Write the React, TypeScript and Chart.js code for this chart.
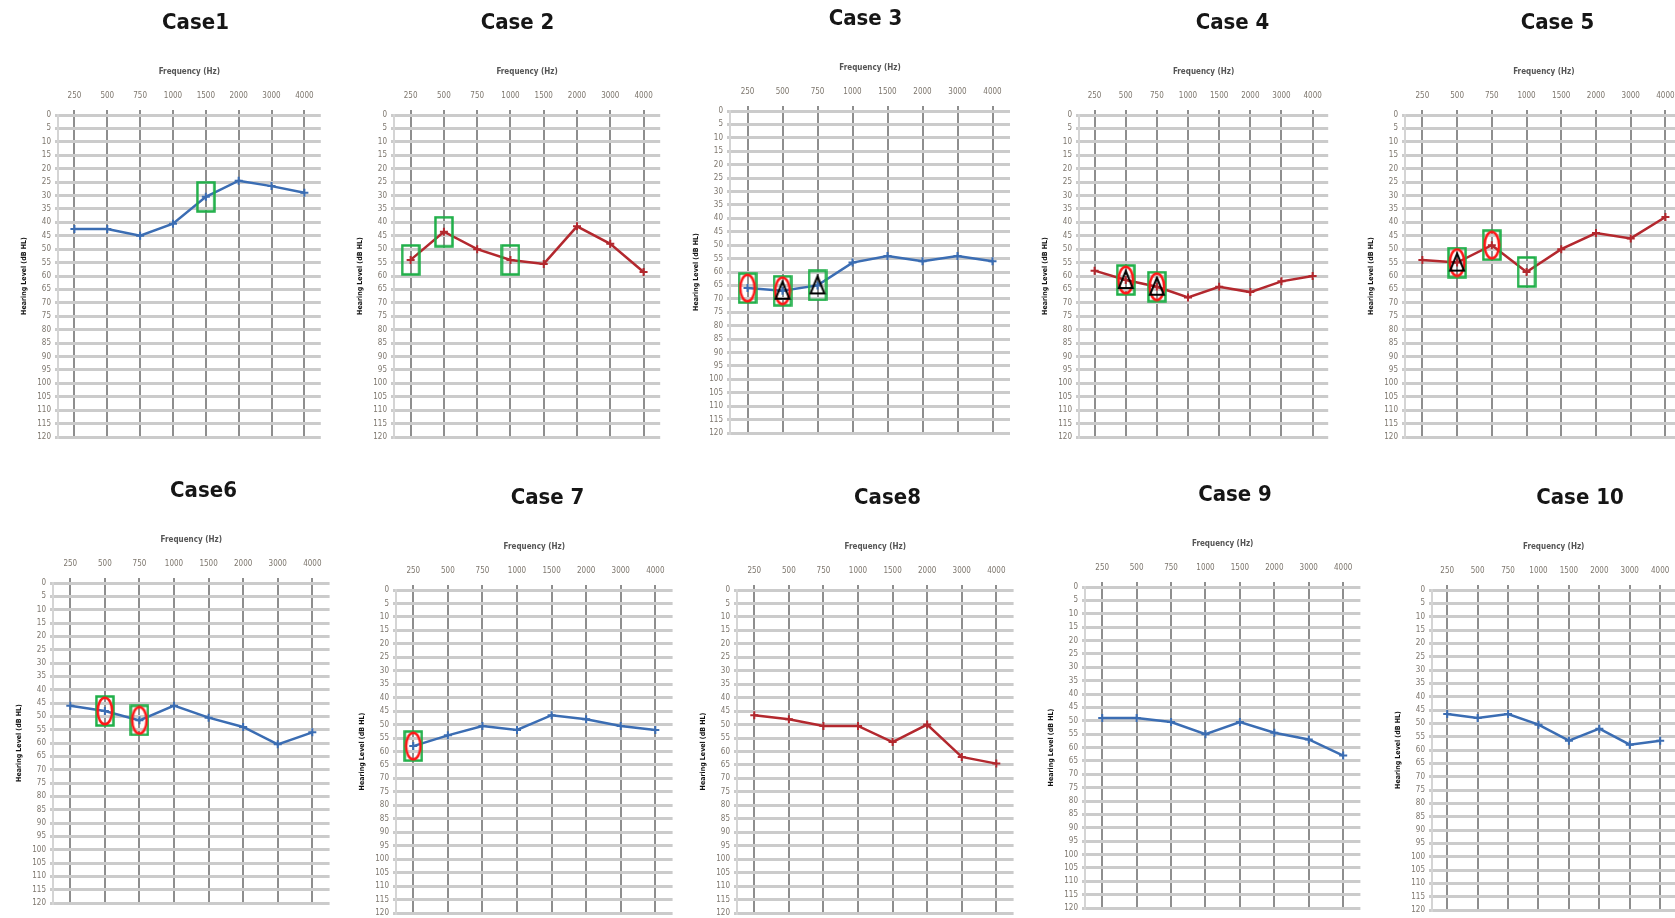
import React, { useEffect, useRef } from "react";
import { Chart, registerables } from "chart.js";

Chart.register(...registerables);

// ---------- data ----------
const frequencies = ["250", "500", "750", "1000", "1500", "2000", "3000", "4000"];
const levelMin = 0;
const levelMax = 120;
const levelStep = 5;

const case1Values = [42.5, 42.5, 45, 40.5, 30.5, 24.5, 26.5, 29];
const case2Values = [54, 43.5, 50, 54, 55.5, 41.5, 48, 58.5];
const case3Values = [66, 67, 65, 56.5, 54, 56, 54, 56];
const case4Values = [58, 61.5, 64, 68, 64, 66, 62, 60];
const case5Values = [54, 55, 48.5, 58.5, 50, 44, 46, 38];
const case6Values = [46, 48, 51.5, 46, 50.5, 54, 60.5, 56];
const case7Values = [58, 54, 50.5, 52, 46.5, 48, 50.5, 52];
const case8Values = [46.5, 48, 50.5, 50.5, 56.5, 50, 62, 64.5];
const case9Values = [49, 49, 50.5, 55, 50.5, 54.5, 57, 63];
const case10Values = [46.5, 48, 46.5, 50.5, 56.5, 52, 58, 56.5];

// indices (into frequencies) of highlighted points
const case1Boxes = [4];
const case2Boxes = [0, 1, 3];
const case3Boxes = [0, 1, 2];
const case3Circles = [0, 1];
const case3Triangles = [1, 2];
const case4Boxes = [1, 2];
const case4Circles = [1, 2];
const case4Triangles = [1, 2];
const case5Boxes = [1, 2, 3];
const case5Circles = [1, 2];
const case5Triangles = [1];
const case6Boxes = [1, 2];
const case6Circles = [1, 2];
const case7Boxes = [0];
const case7Circles = [0];

const BLUE = "#3b6db3";
const RED = "#b3282e";

const CASES = [
  { title: "Case1", values: case1Values, color: BLUE, boxes: case1Boxes, circles: [], triangles: [] },
  { title: "Case 2", values: case2Values, color: RED, boxes: case2Boxes, circles: [], triangles: [] },
  { title: "Case 3", values: case3Values, color: BLUE, boxes: case3Boxes, circles: case3Circles, triangles: case3Triangles },
  { title: "Case 4", values: case4Values, color: RED, boxes: case4Boxes, circles: case4Circles, triangles: case4Triangles },
  { title: "Case 5", values: case5Values, color: RED, boxes: case5Boxes, circles: case5Circles, triangles: case5Triangles },
  { title: "Case6", values: case6Values, color: BLUE, boxes: case6Boxes, circles: case6Circles, triangles: [] },
  { title: "Case 7", values: case7Values, color: BLUE, boxes: case7Boxes, circles: case7Circles, triangles: [] },
  { title: "Case8", values: case8Values, color: RED, boxes: [], circles: [], triangles: [] },
  { title: "Case 9", values: case9Values, color: BLUE, boxes: [], circles: [], triangles: [] },
  { title: "Case 10", values: case10Values, color: BLUE, boxes: [], circles: [], triangles: [] },
];

// ---------- layout (plot area: left, top, right, bottom; title centre x) ----------
const LAYOUT = [
  { plot: [57.6, 115, 320.4, 437], titleX: 195 },
  { plot: [394.4, 115, 660.6, 437], titleX: 518 },
  { plot: [729.5, 111, 1009.5, 433], titleX: 865 },
  { plot: [1079.4, 115, 1328.6, 437], titleX: 1233 },
  { plot: [1404.6, 115, 1682.4, 437], titleX: 1557 },
  { plot: [52.7, 583, 329.3, 903], titleX: 203 },
  { plot: [395.7, 590, 672.3, 913], titleX: 547 },
  { plot: [736.7, 590, 1013.3, 913], titleX: 887 },
  { plot: [1084.8, 587, 1360.2, 908], titleX: 1235 },
  { plot: [1431.8, 590, 1675.2, 910], titleX: 1580 },
];

const Y_AXIS_W = 45;
const TOP_H = 105;
const TITLE_FONT = 22;
const BOTTOM_PAD = 12;
const NARROW = "'Liberation Sans Narrow', 'DejaVu Sans Condensed', 'Liberation Sans', sans-serif";

// ---------- marker images ----------
function makeMark(kind: string): HTMLCanvasElement {
  const c = document.createElement("canvas");
  const ctx = c.getContext("2d")!;
  if (kind === "box") {
    c.width = 20;
    c.height = 32;
    ctx.strokeStyle = "#1faf48";
    ctx.lineWidth = 2.5;
    ctx.strokeRect(1.5, 1.5, 17, 29);
  } else if (kind === "circle") {
    c.width = 18;
    c.height = 30;
    ctx.strokeStyle = "#ff1616";
    ctx.lineWidth = 2.5;
    ctx.beginPath();
    ctx.ellipse(9, 15, 7.2, 13.2, 0, 0, Math.PI * 2);
    ctx.stroke();
  } else {
    c.width = 18;
    c.height = 22;
    ctx.strokeStyle = "#000";
    ctx.lineWidth = 2;
    ctx.beginPath();
    ctx.moveTo(9, 2);
    ctx.lineTo(16, 19);
    ctx.lineTo(2, 19);
    ctx.closePath();
    ctx.stroke();
  }
  return c;
}

function pick(values: number[], idx: number[]) {
  return frequencies.map((_, i) => (idx.includes(i) ? values[i] : null));
}

function Audiogram({ cfg, layout }: { cfg: any; layout: any }) {
  const ref = useRef<HTMLCanvasElement>(null);
  const [pl, pt, pr, pb] = layout.plot;
  const canvasLeft = pl - Y_AXIS_W;
  const canvasTop = pt - TOP_H;
  const width = Math.round(2 * (layout.titleX - canvasLeft));
  const plotW = pr - pl;
  const height = Math.round(TOP_H + (pb - pt) + BOTTOM_PAD);
  const rightW = width - Y_AXIS_W - plotW;

  useEffect(() => {
    if (!ref.current) return;
    const boxImg = makeMark("box");
    const circleImg = makeMark("circle");
    const triImg = makeMark("triangle");
    const mark = (label: string, idx: number[], img: HTMLCanvasElement, order: number) => ({
      label,
      data: pick(cfg.values, idx),
      showLine: false,
      pointStyle: img,
      pointRadius: 5,
      pointBorderWidth: 0,
      order,
    });
    const datasets: any[] = [
      {
        label: cfg.title,
        data: cfg.values,
        borderColor: cfg.color,
        backgroundColor: cfg.color,
        borderWidth: 2.5,
        pointStyle: "cross",
        pointRadius: 4,
        pointBorderWidth: 2,
        pointBorderColor: cfg.color,
        tension: 0,
        order: 3,
      },
    ];
    if (cfg.boxes.length) datasets.push(mark("box", cfg.boxes, boxImg, 2));
    if (cfg.circles.length) datasets.push(mark("circle", cfg.circles, circleImg, 1));
    if (cfg.triangles.length) datasets.push(mark("triangle", cfg.triangles, triImg, 0));

    const chart = new Chart(ref.current, {
      type: "line",
      data: { labels: frequencies, datasets },
      options: {
        animation: false,
        responsive: false,
        devicePixelRatio: 1,
        layout: { padding: { top: 0, left: 0, right: 0, bottom: BOTTOM_PAD } },
        plugins: {
          legend: { display: false },
          tooltip: { enabled: false },
          title: {
            display: true,
            text: cfg.title,
            color: "#161616",
            font: { family: NARROW, size: TITLE_FONT, weight: "bold" },
            padding: { top: 0, bottom: 0 },
          },
        },
        scales: {
          x: {
            type: "category",
            position: "top",
            offset: true,
            grid: { offset: false, color: "#8e8e8e", lineWidth: 2, drawTicks: true, tickLength: 5 },
            border: { display: false },
            ticks: {
              autoSkip: false,
              maxRotation: 0,
              padding: 9,
              color: "#7d766d",
              font: { family: NARROW, size: 8 },
            },
            title: {
              display: true,
              text: "Frequency (Hz)",
              color: "#555",
              font: { family: NARROW, size: 8, weight: "bold" },
              padding: { top: 30.8, bottom: 0 },
            },
            afterFit: (s: any) => {
              s.height = TOP_H - TITLE_FONT * 1.2;
            },
          },
          y: {
            position: "left",
            min: levelMin,
            max: levelMax,
            reverse: true,
            grid: { color: "#cbcbcb", lineWidth: 3, drawTicks: true, tickLength: 3 },
            border: { color: "#d4d4d4", width: 2 },
            ticks: {
              stepSize: levelStep,
              autoSkip: false,
              padding: 4,
              color: "#7d766d",
              font: { family: NARROW, size: 8 },
            },
            title: {
              display: true,
              text: "Hearing Level (dB HL)",
              color: "#111",
              font: { family: NARROW, size: 7, weight: "bold" },
              padding: { top: 6.8, bottom: 0 },
            },
            afterFit: (s: any) => {
              s.width = Y_AXIS_W;
            },
          },
          yPad: {
            position: "right",
            display: true,
            grid: { display: false },
            border: { display: false },
            ticks: { display: false },
            afterFit: (s: any) => {
              s.width = rightW;
            },
          },
        },
      } as any,
    });
    return () => chart.destroy();
  }, []);

  return (
    <canvas
      ref={ref}
      width={width}
      height={height}
      style={{ position: "absolute", left: canvasLeft, top: canvasTop, width, height }}
    />
  );
}

export default function App() {
  return (
    <div style={{ position: "fixed", inset: 0, overflow: "hidden", background: "#fff" }}>
      {CASES.map((c, i) => (
        <Audiogram key={c.title} cfg={c} layout={LAYOUT[i]} />
      ))}
    </div>
  );
}
